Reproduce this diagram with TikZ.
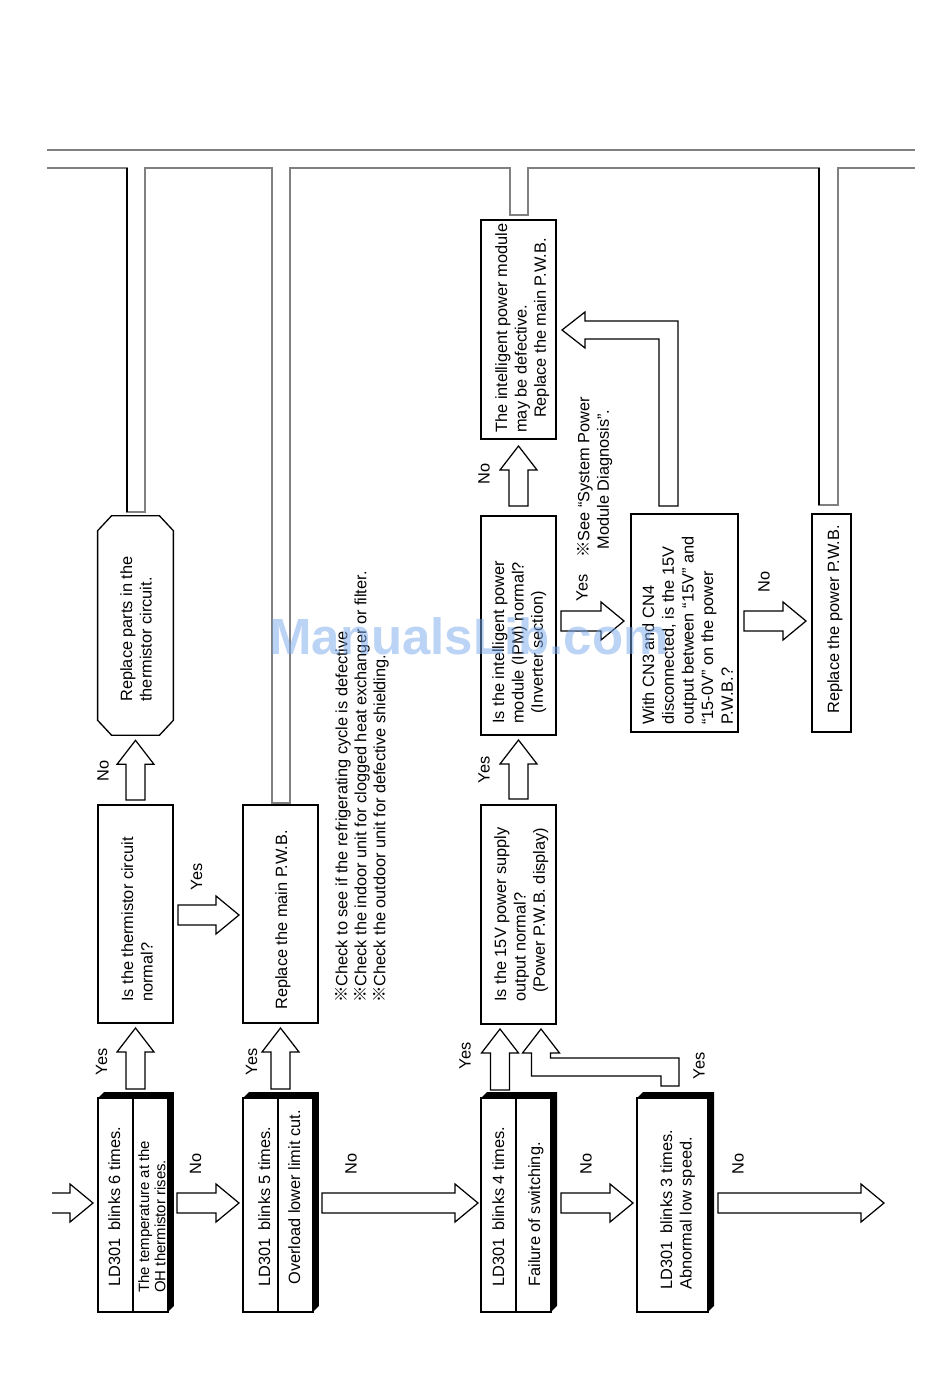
\documentclass[tikz,border=0pt]{standalone}
\usepackage{fontspec}
\setmainfont{Liberation Sans}
\newfontfamily\cjkf{Noto Sans CJK JP}
\usetikzlibrary{calc}
\newcommand\rmark{{\cjkf ※}}
% block arrow pointing up: #1 tail point (y used), #2 tip point
\newcommand\blkUp[2]{\draw[blk] let \p1=(#1), \p2=(#2) in
  (\x2-5.41pt,\y1) -- (\x2-5.41pt,\y2-13.66pt) -- (\x2-10.53pt,\y2-13.66pt) -- (\x2,\y2)
  -- (\x2+10.53pt,\y2-13.66pt) -- (\x2+5.41pt,\y2-13.66pt) -- (\x2+5.41pt,\y1) -- cycle;}
% block arrow pointing right: #1 tail point (x used), #2 tip point
\newcommand\blkRight[2]{\draw[blk] let \p1=(#1), \p2=(#2) in
  (\x1,\y2+5.69pt) -- (\x2-13.09pt,\y2+5.69pt) -- (\x2-13.09pt,\y2+10.81pt) -- (\x2,\y2)
  -- (\x2-13.09pt,\y2-10.81pt) -- (\x2-13.09pt,\y2-5.69pt) -- (\x1,\y2-5.69pt) -- cycle;}
\newcommand\shadowbox[1]{\fill (#1.north west) -- ++(6,-6) -| ($(#1.south east)+(6,-6)$) -- (#1.south east) -- (#1.north east) -- cycle;}
\begin{document}
\begin{tikzpicture}[x=0.02cm,y=-0.02cm,
  bx/.style={draw, line width=0.75pt, inner sep=0pt, outer sep=0pt},
  blk/.style={draw, line width=0.7pt, line join=miter},
  pipe/.style={draw=black!50, line width=0.75pt},
  tx/.style={rotate=90, anchor=north west, inner sep=0pt, align=left, font=\fontsize{9.3}{11}\selectfont},
  tsm/.style={rotate=90, anchor=north west, inner sep=0pt, align=left, font=\fontsize{8.5}{9.2}\selectfont},
  lb/.style={rotate=90, inner sep=0pt, font=\fontsize{9.3}{11}\selectfont},
  wm/.style={inner sep=0pt, font=\fontsize{29}{30}\bfseries\selectfont, text={rgb,255:red,120;green,168;blue,235}, opacity=0.5}]
\fill[white] (0,0) rectangle (950,1379);
\useasboundingbox (0,0) rectangle (950,1379);

% ---------- pipes at the top ----------
\draw[pipe] (47,150) -- (915,150);
\draw[pipe] (47,168) -- (127,168) -- (127,512) -- (145,512) -- (145,168) -- (272,168) -- (272,803)
  -- (290,803) -- (290,168) -- (510,168) -- (510,215) -- (528,215) -- (528,168) -- (819,168)
  -- (819,505) -- (838,505) -- (838,168) -- (915,168);
\draw[line width=0.75pt] (127,168) -- (127,512);
\draw[line width=0.75pt] (819,168) -- (819,505);

% ---------- boxes ----------
\node[bx, minimum width=1.40cm, minimum height=4.28cm] (b6) at (133,1205) {};
\node[bx, minimum width=1.40cm, minimum height=4.28cm] (b5) at (278,1205) {};
\node[bx, minimum width=1.40cm, minimum height=4.28cm] (b4) at (516,1205) {};
\node[bx, minimum width=1.42cm, minimum height=4.28cm] (b3) at (672.5,1205) {};
\shadowbox{b6}\shadowbox{b5}\shadowbox{b4}\shadowbox{b3}
\draw[line width=0.75pt] (b6.north) -- (b6.south);
\draw[line width=0.75pt] (b5.north) -- (b5.south);
\draw[line width=0.75pt] (b4.north) -- (b4.south);

\node[bx, minimum width=1.50cm, minimum height=4.36cm] (therm) at (135.5,914) {};
\node[bx, minimum width=1.50cm, minimum height=4.36cm] (repl) at (280.5,914) {};
\node[bx, minimum width=1.50cm, minimum height=4.38cm] (q15) at (518.5,914.5) {};
\node[bx, minimum width=1.50cm, minimum height=4.38cm] (ipm) at (518.5,625.5) {};
\node[bx, minimum width=1.50cm, minimum height=4.38cm] (defect) at (518.5,329.5) {};
\node[bx, minimum width=2.14cm, minimum height=4.36cm] (cn) at (684.5,623) {};
\node[bx, minimum width=0.78cm, minimum height=4.36cm] (rpow) at (831.5,623) {};
\node[inner sep=0pt, minimum width=1.50cm, minimum height=4.38cm] (oct) at (135.5,625.5) {};
\draw[line width=0.75pt] ($(oct.north west)+(0,15)$) -- ($(oct.north west)+(14,0)$) -- ($(oct.north east)+(-14,0)$)
  -- ($(oct.north east)+(0,15)$) -- ($(oct.south east)+(0,-15)$) -- ($(oct.south east)+(-14,0)$)
  -- ($(oct.south west)+(14,0)$) -- ($(oct.south west)+(0,-15)$) -- cycle;

% ---------- texts ----------
\node[tx] (t6a) at (108,1287) {LD301\hspace{.5em}blinks 6 times.};
\node[tsm] (t6b) at (138,1293) {The temperature at the\\OH thermistor rises.};
\node[tx] (t5a) at (258,1287) {LD301\hspace{.5em}blinks 5 times.};
\node[tx] (t5b) at (288,1285) {Overload lower limit cut.};
\node[tx] (t4a) at (492,1287) {LD301\hspace{.5em}blinks 4 times.};
\node[tx] (t4b) at (528,1287) {Failure of switching.};
\node[tx] (t3) at (660,1290) {LD301\hspace{.5em}blinks 3 times.\\Abnormal low speed.};
\node[tx] (tth) at (121,1002) {Is the thermistor circuit\\normal?};
\node[tx] (trp) at (275,1010) {Replace the main P.W.B.};
\node[tx] (toc) at (120,702) {Replace parts in the\\thermistor circuit.};
\node[tx, font=\fontsize{9.3}{10.8}\selectfont] (tnote) at (335,1003)
  {\rmark Check to see if the refrigerating cycle is defective\\
   \rmark Check the indoor unit for clogged heat exchanger or filter.\\
   \rmark Check the outdoor unit for defective shielding.};
\node[tx] (tq) at (494,1002) {Is the 15V power supply\\output normal?\\\hspace*{0.55em}(Power P.W.B. display)};
\node[tx] (tip) at (492,724) {Is the intelligent power\\module (IPM) normal?\\\hspace*{0.6em}(Inverter section)};
\node[tx] (tdf) at (495,433) {The intelligent power module\\may be defective.\\\hspace*{0.9em}Replace the main P.W.B.};
\node[tx, font=\fontsize{9.3}{11.2}\selectfont] (tcn) at (642,725) {With CN3 and CN4\\disconnected, is the 15V\\output between “15V” and\\“15-0V” on the power\\P.W.B.?};
\node[tx] (trw) at (827,714) {Replace the power P.W.B.};
\node[tx] (tsee) at (577,558) {\rmark See “System Power\\\hspace*{0.5em}Module Diagnosis”.};

% ---------- block arrows ----------
\coordinate (entry) at (52,1203);
\coordinate (exit) at (884,1203);
\draw[blk] let \p1=(entry), \p2=($(b6.west)+(-5,-2)$) in
  (\x1,\y2+5.69pt) -- (\x2-13.09pt,\y2+5.69pt) -- (\x2-13.09pt,\y2+10.81pt) -- (\x2,\y2)
  -- (\x2-13.09pt,\y2-10.81pt) -- (\x2-13.09pt,\y2-5.69pt) -- (\x1,\y2-5.69pt);
\blkRight{$(b6.east)+(9,0)$}{$(b5.west)+(-4,-2)$}
\blkRight{$(b5.east)+(9,0)$}{$(b4.west)+(-3,-2)$}
\blkRight{$(b4.east)+(10,0)$}{$(b3.west)+(-4,-2)$}
\blkRight{$(b3.east)+(10,0)$}{exit}
\blkRight{$(therm.east)+(5,0)$}{$(repl.west)+(-4,1)$}
\blkRight{$(ipm.east)+(5,0)$}{$(cn.west)+(-7,-2)$}
\blkRight{$(cn.east)+(6,0)$}{$(rpow.west)+(-6,-2)$}

\blkUp{$(b6.north)+(0,-9)$}{$(therm.south)+(0,5)$}
\blkUp{$(b5.north)+(0,-9)$}{$(repl.south)+(0,5)$}
\blkUp{$(therm.north)+(0,-5)$}{$(oct.south)+(0,5)$}
\blkUp{$(b4.north)+(0,-8)$}{$(q15.south)+(-18.5,5)$}
\blkUp{$(q15.north)+(0,-6)$}{$(ipm.south)+(0,5)$}
\blkUp{$(ipm.north)+(0,-10)$}{$(defect.south)+(0,7)$}

% L-shaped arrow: LD301 3 times --Yes--> 15V box
\draw[blk] let \p1=($(q15.south)+(22.5,5)$), \p2=($(b3.north)+(-2.5,-12)$) in
  (\x1,\y1) -- (\x1+10.53pt,\y1-13.66pt) -- (\x1+5.41pt,\y1-13.66pt) -- (\x1+5.41pt,\y1-16.5pt)
  -- (\x2+5.12pt,\y1-16.5pt) -- (\x2+5.12pt,\y2) -- (\x2-5.12pt,\y2) -- (\x2-5.12pt,\y1-26.75pt)
  -- (\x1-5.41pt,\y1-26.75pt) -- (\x1-5.41pt,\y1-13.66pt) -- (\x1-10.53pt,\y1-13.66pt) -- cycle;
% L-shaped arrow: CN box --> IPM defective box
\draw[blk] let \p1=($(defect.east)+(6,0.5)$), \p2=($(cn.north)+(-16,-8)$) in
  (\x1,\y1) -- (\x1+13.09pt,\y1+10.24pt) -- (\x1+13.09pt,\y1+5.12pt) -- (\x2+5.41pt,\y1+5.12pt)
  -- (\x2+5.41pt,\y2) -- (\x2-5.41pt,\y2) -- (\x2-5.41pt,\y1-5.12pt) -- (\x1+13.09pt,\y1-5.12pt)
  -- (\x1+13.09pt,\y1-10.24pt) -- cycle;

% ---------- labels ----------
\node[lb] (y1) at (101.5,1062) {Yes};
\node[lb] (y2) at (251.5,1062) {Yes};
\node[lb] (y3) at (196.5,877) {Yes};
\node[lb] (y4) at (465,1056) {Yes};
\node[lb] (y5) at (699,1066) {Yes};
\node[lb] (y6) at (484,770) {Yes};
\node[lb] (y7) at (582,588) {Yes};
\node[lb] (n1) at (103,771) {No};
\node[lb] (n2) at (195.5,1164) {No};
\node[lb] (n3) at (351,1164) {No};
\node[lb] (n4) at (586,1164) {No};
\node[lb] (n5) at (738,1164) {No};
\node[lb] (n6) at (484,474) {No};
\node[lb] (n7) at (764,582) {No};

% ---------- watermark ----------
\node[wm] (wmark) at (469,636) {ManualsLib.com};
\end{tikzpicture}
\end{document}
